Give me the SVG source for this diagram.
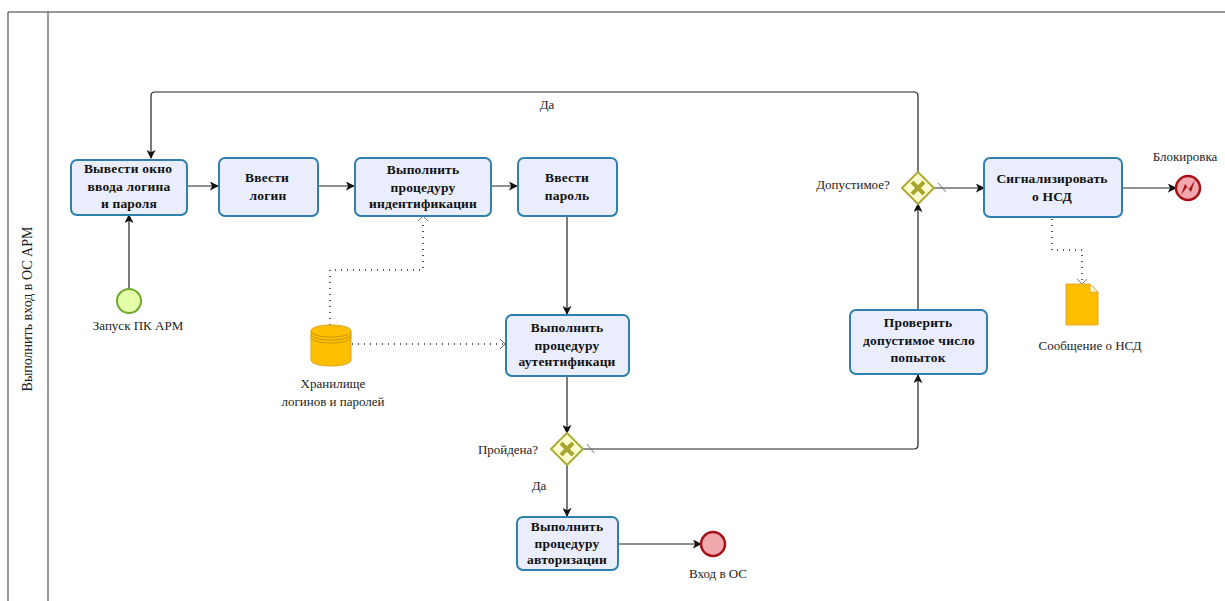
<svg xmlns="http://www.w3.org/2000/svg" width="1225" height="601" viewBox="0 0 1225 601">
<style>
text{font-family:"Liberation Serif","Times New Roman",serif;font-size:13px;fill:#222;text-anchor:middle}
.t{font-weight:bold;fill:#111;font-size:13.5px;letter-spacing:.2px}
.task{fill:#e9edfc;stroke:#2f80ac;stroke-width:2}
.f{fill:none;stroke:#222;stroke-width:1.2}
.d{fill:none;stroke:#222;stroke-width:1.5;stroke-dasharray:1 5}
.gw{fill:#feffd0;stroke:#abab3a;stroke-width:2}
.x{stroke:#a5a530;stroke-width:4;fill:none}
.tick{stroke:#777;stroke-width:1;fill:none}
.oh{stroke:#777;stroke-width:1;fill:none}
</style>
<defs>
<marker id="a" viewBox="0 0 10 10" refX="9" refY="5" markerWidth="9" markerHeight="9" markerUnits="userSpaceOnUse" orient="auto"><path d="M0 0L10 5L0 10L2.5 5Z" fill="#111"/></marker>
</defs>
<g id="pool" fill="none">
<path d="M1225 12H8V601" stroke="#333" stroke-width="1"/>
<path d="M41 12V601" stroke="#777" stroke-width="1.5" transform="translate(7 0)"/>
<text transform="translate(32 309) rotate(-90)" font-size="14" style="font-size:14px">Выполнить вход в ОС АРМ</text>
</g>
<g id="connectors">
<path class="f" marker-end="url(#a)" d="M918 173V96Q918 92 914 92H155Q151 92 151 96V158"/>
<path class="f" marker-end="url(#a)" d="M157 186H218"/>
<path class="f" marker-end="url(#a)" d="M268 186H354"/>
<path class="f" marker-end="url(#a)" d="M414 186H517"/>
<path class="f" marker-end="url(#a)" d="M129 289V215"/>
<path class="f" marker-end="url(#a)" d="M567 216V314"/>
<path class="f" marker-end="url(#a)" d="M567 377V433"/>
<path class="f" marker-end="url(#a)" d="M567 464V516"/>
<path class="f" marker-end="url(#a)" d="M619 544H701"/>
<path class="f" d="M583 449H914Q918 449 918 445"/>
<path class="f" marker-end="url(#a)" d="M918 445V375"/>
<path class="f" marker-end="url(#a)" d="M918 309V204"/>
<path class="f" marker-end="url(#a)" d="M934 188H984"/>
<path class="f" marker-end="url(#a)" d="M1122 188H1176"/>
<path class="d" d="M330 325V270H423V220"/>
<path class="oh" d="M418 221L423 216L428 221"/>
<path class="d" d="M352 344H503"/>
<path class="oh" d="M500 339L505 344L500 349"/>
<path class="d" d="M1052 219V250H1082V282"/>
<path class="oh" d="M1077 279L1082 284L1087 279"/>
<path class="tick" d="M587 444L594 453"/>
<path class="tick" d="M938 183L946 192"/>
</g>
<g id="start"><circle cx="129" cy="301" r="12" fill="#e5ffa8" stroke="#70a830" stroke-width="2"/><text x="138" y="330">Запуск ПК АРМ</text></g>
<g id="task1"><rect class="task" x="71" y="160" width="116" height="55" rx="6"/><text class="t" x="128" y="173">Вывести окно</text><text class="t" x="129" y="191">ввода логина</text><text class="t" x="129" y="208">и пароля</text></g>
<g id="task2"><rect class="task" x="219" y="158" width="99" height="58" rx="6"/><text class="t" x="226" y="182" style="text-anchor:start" dx="19">Ввести</text><text class="t" x="268" y="200">логин</text></g>
<g id="task3"><rect class="task" x="355" y="158" width="136" height="58" rx="6"/><text class="t" x="423" y="174">Выполнить</text><text class="t" x="423" y="192">процедуру</text><text class="t" x="423" y="208">индентификации</text></g>
<g id="task4"><rect class="task" x="518" y="158" width="99" height="58" rx="6"/><text class="t" x="567" y="182">Ввести</text><text class="t" x="567" y="200">пароль</text></g>
<g id="store"><path d="M311 331C311 323 351 323 351 331V360C351 368 311 368 311 360Z" fill="#ffbe00" stroke="#d9a520" stroke-width="1"/><path d="M311 331C311 339 351 339 351 331M311 334C311 342 351 342 351 334M311 337C311 345 351 345 351 337" fill="none" stroke="#c99a10" stroke-width="1"/><text x="333" y="388">Хранилище</text><text x="333" y="406">логинов и паролей</text></g>
<g id="task5"><rect class="task" x="506" y="315" width="123" height="61" rx="6"/><text class="t" x="567" y="332">Выполнить</text><text class="t" x="567" y="350">процедуру</text><text class="t" x="567" y="366">аутентификаци</text></g>
<g id="gw1"><path class="gw" d="M567 433L583 449L567 465L551 449Z"/><path class="x" d="M561 443L573 455M573 443L561 455"/><text x="508" y="454">Пройдена?</text></g>
<text id="lblYes2" x="539" y="490">Да</text>
<text id="lblYes1" x="547" y="109">Да</text>
<g id="task6"><rect class="task" x="517" y="517" width="101" height="53" rx="6"/><text class="t" x="567" y="531">Выполнить</text><text class="t" x="567" y="548">процедуру</text><text class="t" x="567" y="564">авторизации</text></g>
<g id="end"><circle cx="713" cy="544" r="12" fill="#f0a8ad" stroke="#a81018" stroke-width="2.5"/><text x="718" y="578">Вход в ОС</text></g>
<g id="task7"><rect class="task" x="850" y="310" width="137" height="64" rx="6"/><text class="t" x="918" y="327">Проверить</text><text class="t" x="919" y="345">допустимое число</text><text class="t" x="918" y="362">попыток</text></g>
<g id="gw2"><path class="gw" d="M918 172L934 188L918 204L902 188Z"/><path class="x" d="M912 182L924 194M924 182L912 194"/><text x="853" y="189">Допустимое?</text></g>
<g id="task8"><rect class="task" x="984" y="158" width="138" height="59" rx="6"/><text class="t" x="1052" y="183">Сигнализировать</text><text class="t" x="1052" y="201">о НСД</text></g>
<g id="block"><circle cx="1188" cy="188" r="12" fill="#f0a8ad" stroke="#a81018" stroke-width="2.5"/><path d="M1181 195L1185 184L1189 189L1195 180L1191 192L1187 187Z" fill="#a81018"/><text x="1185" y="161">Блокировка</text></g>
<g id="doc"><path d="M1066 284H1090L1098 292V325H1066Z" fill="#ffbe00" stroke="#e0a830" stroke-width="1"/><path d="M1090 284V292H1098Z" fill="#fff6d8" stroke="#e0a830" stroke-width="1"/><text x="1090" y="350">Сообщение о НСД</text></g>
</svg>
